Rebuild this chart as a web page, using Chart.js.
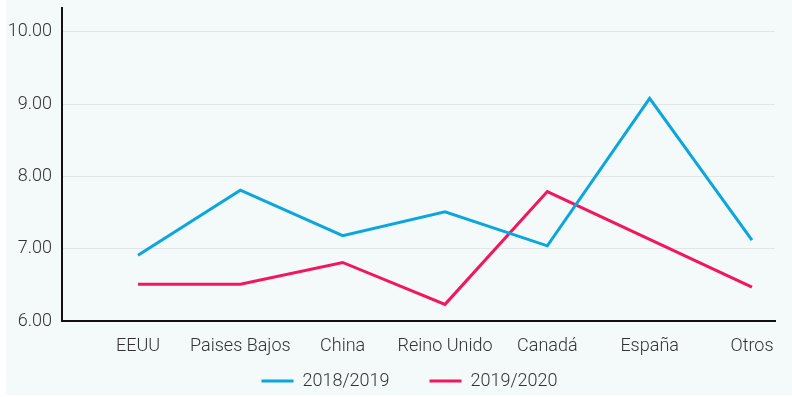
<!DOCTYPE html>
<html>
<head>
<meta charset="utf-8">
<script src="https://cdn.jsdelivr.net/npm/chart.js@4/dist/chart.umd.min.js"></script>
<style>
  html, body { margin: 0; padding: 0; background: #fff; }
  #wrap { width: 792px; height: 397px; }
</style>
</head>
<body>
<div id="wrap"><canvas id="chart"></canvas></div>
<script>
// categorias y series
const categories = ['EEUU', 'Paises Bajos', 'China', 'Reino Unido', 'Canadá', 'España', 'Otros'];
const serie2018 = [6.91, 7.81, 7.18, 7.51, 7.04, 9.08, 7.12];
const serie2019 = [6.51, 6.51, 6.81, 6.23, 7.79, 7.13, 6.47];
const seriesNames = ['2018/2019', '2019/2020'];
const yTicks = [6, 7, 8, 9, 10];

const BLUE = '#0ba6dc';
const RED = '#f2175d';
const FONT = { family: 'Roboto', size: 18, weight: 300 };

function toPoints(values) {
  return values.map(function(v, i) { return { x: i, y: v }; });
}

// fondo claro del panel
const panelBg = {
  id: 'panelBg',
  beforeDraw: function(chart) {
    const ctx = chart.ctx;
    ctx.save();
    ctx.fillStyle = '#f4f9fa';
    ctx.fillRect(6, 0, chart.width - 6, chart.height - 2);
    ctx.restore();
  }
};

// leyenda: alto fijo, subida un poco y centrada como el original
const legendFit = {
  id: 'legendFit',
  afterInit: function(chart) {
    const legend = chart.legend;
    const fit = legend.fit;
    legend.fit = function() {
      fit.call(this);
      this.height = 36;
      this.lineWidths[0] -= 44;
    };
  },
  afterLayout: function(chart) {
    const legend = chart.legend;
    legend.top -= 29;
    legend.height = legend.bottom - legend.top;
  }
};

new Chart(document.getElementById('chart'), {
  type: 'line',
  data: {
    datasets: [
      {
        label: seriesNames[0],
        data: toPoints(serie2018),
        borderColor: BLUE,
        backgroundColor: BLUE,
        borderWidth: 3,
        pointRadius: 0,
        tension: 0
      },
      {
        label: seriesNames[1],
        data: toPoints(serie2019),
        borderColor: RED,
        backgroundColor: RED,
        borderWidth: 3,
        pointRadius: 0,
        tension: 0
      }
    ]
  },
  options: {
    responsive: true,
    maintainAspectRatio: false,
    animation: false,
    layout: { padding: { top: 8, right: 17, left: 0, bottom: 0 } },
    scales: {
      x: {
        type: 'linear',
        min: -0.743,
        max: 6.225,
        afterBuildTicks: function(scale) {
          scale.ticks = categories.map(function(c, i) { return { value: i }; });
        },
        afterFit: function(scale) {
          scale.height = 40;
          scale.paddingLeft = 0;
          scale.paddingRight = 0;
        },
        grid: { display: false, drawTicks: false },
        border: { display: true, color: '#111', width: 2 },
        ticks: {
          autoSkip: false,
          maxRotation: 0,
          padding: 15,
          color: '#333',
          font: FONT,
          callback: function(v) { return categories[v]; }
        }
      },
      y: {
        min: 6,
        max: 10.33,
        afterBuildTicks: function(scale) {
          scale.ticks = yTicks.map(function(v) { return { value: v }; });
        },
        afterFit: function(scale) {
          scale.width = 62;
          scale.paddingTop = 0;
          scale.paddingBottom = 0;
        },
        grid: { color: '#e2e6e8', lineWidth: 1, drawTicks: false },
        border: { display: true, color: '#111', width: 2 },
        ticks: {
          padding: 10,
          color: '#333',
          font: FONT,
          callback: function(v) { return v.toFixed(2); }
        }
      }
    },
    plugins: {
      legend: {
        position: 'bottom',
        labels: {
          usePointStyle: true,
          pointStyle: 'line',
          pointStyleWidth: 32,
          padding: 40,
          color: '#333',
          font: FONT
        }
      },
      tooltip: { enabled: false }
    }
  },
  plugins: [panelBg, legendFit]
});
</script>
</body>
</html>
